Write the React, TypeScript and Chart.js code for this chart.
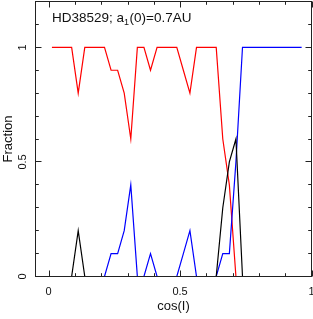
import React, { useEffect, useRef } from "react";
import { Chart, registerables } from "chart.js";

Chart.register(...registerables);

// cos(I) bin centres
const cosI = [
  0.0125, 0.0375, 0.0625, 0.0875, 0.1125, 0.1375, 0.1625, 0.1875, 0.2125, 0.2375,
  0.2625, 0.2875, 0.3125, 0.3375, 0.3625, 0.3875, 0.4125, 0.4375, 0.4625, 0.4875,
  0.5125, 0.5375, 0.5625, 0.5875, 0.6125, 0.6375, 0.6625, 0.6875, 0.7125, 0.7375,
  0.7625, 0.7875, 0.8125, 0.8375, 0.8625, 0.8875, 0.9125, 0.9375, 0.9625,
];
const redFrac = [
  1, 1, 1, 1, 0.8, 1, 1, 1, 1, 0.9,
  0.9, 0.8, 0.6, 1, 1, 0.9, 1, 1, 1, 1,
  0.9, 0.8, 1, 1, 1, 1, 0.6, 0.4, 0, 0,
  0, 0, 0, 0, 0, 0, 0, 0, 0,
];
const blueFrac = [
  0, 0, 0, 0, 0, 0, 0, 0, 0, 0.1,
  0.1, 0.2, 0.4, 0, 0, 0.1, 0, 0, 0, 0,
  0.1, 0.2, 0, 0, 0, 0, 0.1, 0.1, 0.5, 1,
  1, 1, 1, 1, 1, 1, 1, 1, 1,
];
const blackFrac = [
  0, 0, 0, 0, 0.2, 0, 0, 0, 0, 0,
  0, 0, 0, 0, 0, 0, 0, 0, 0, 0,
  0, 0, 0, 0, 0, 0, 0.3, 0.5, 0.6, 0,
  0, 0, 0, 0, 0, 0, 0, 0, 0,
];
const xTickValues = [0, 0.5, 1];
const yTickValues = [0, 0.5, 1];
const xMinorTicks = [0, 0.1, 0.2, 0.3, 0.4, 0.5, 0.6, 0.7, 0.8, 0.9, 1];
const yMinorTicks = [0, 0.1, 0.2, 0.3, 0.4, 0.5, 0.6, 0.7, 0.8, 0.9, 1, 1.1, 1.2];
const titleMain = "HD38529; a";
const titleSub = "1";
const titleRest = "(0)=0.7AU";
const xTitle = "cos(I)";
const yTitle = "Fraction";

const FONT = '"Liberation Sans", Arial, Helvetica, sans-serif';

const framePlugin = {
  id: "frame",
  afterDatasetsDraw(chart: any) {
    const { ctx, chartArea: a, scales } = chart;
    const xs = scales.x;
    const ys = scales.y;
    ctx.save();
    ctx.strokeStyle = "#222";
    ctx.lineWidth = 1;
    ctx.strokeRect(a.left, a.top, a.right - a.left, a.bottom - a.top);
    ctx.beginPath();
    xMinorTicks.forEach((v) => {
      const px = Math.round(xs.getPixelForValue(v)) + 0.5;
      const len = xTickValues.some((t) => Math.abs(t - v) < 1e-9) ? 6 : 3.3;
      ctx.moveTo(px, a.bottom);
      ctx.lineTo(px, a.bottom - len);
      ctx.moveTo(px, a.top);
      ctx.lineTo(px, a.top + len);
    });
    yMinorTicks.forEach((v) => {
      const py = Math.floor(ys.getPixelForValue(v)) + 0.5;
      const len = yTickValues.some((t) => Math.abs(t - v) < 1e-9) ? 6 : 3.3;
      ctx.moveTo(a.left, py);
      ctx.lineTo(a.left + len, py);
      ctx.moveTo(a.right, py);
      ctx.lineTo(a.right - len, py);
    });
    ctx.stroke();

    // title
    ctx.fillStyle = "#111";
    ctx.textBaseline = "alphabetic";
    ctx.textAlign = "left";
    let x = a.left + 16.5;
    const base = 21.5;
    ctx.font = `13.5px ${FONT}`;
    ctx.fillText(titleMain, x, base);
    x += ctx.measureText(titleMain).width;
    ctx.font = `9px ${FONT}`;
    ctx.fillText(titleSub, x, base + 3);
    x += ctx.measureText(titleSub).width + 0.5;
    ctx.font = `13.5px ${FONT}`;
    ctx.fillText(titleRest, x, base);
    ctx.restore();
  },
};

const zeroPad = (s: any) => {
  s.paddingLeft = 0;
  s.paddingRight = 0;
  s.paddingTop = 0;
  s.paddingBottom = 0;
};

export default function App() {
  const ref = useRef<HTMLCanvasElement | null>(null);

  useEffect(() => {
    document.body.style.margin = "0";
    const canvas = ref.current;
    if (!canvas) return;
    const mk = (vals: number[]) => cosI.map((x, i) => ({ x, y: vals[i] }));
    const chart = new Chart(canvas, {
      type: "line",
      data: {
        datasets: [
          { data: mk(blackFrac), borderColor: "#000000", borderWidth: 1.2, pointRadius: 0, tension: 0, clip: 0 },
          { data: mk(blueFrac), borderColor: "#0000ff", borderWidth: 1.2, pointRadius: 0, tension: 0, clip: 0 },
          { data: mk(redFrac), borderColor: "#ff0000", borderWidth: 1.2, pointRadius: 0, tension: 0, clip: 0 },
        ],
      },
      options: {
        responsive: false,
        animation: false,
        devicePixelRatio: 1,
        layout: { padding: { top: 1.5, right: 1.5, left: 0, bottom: 0 } },
        plugins: { legend: { display: false }, tooltip: { enabled: false } },
        scales: {
          x: {
            type: "linear",
            min: -0.05,
            max: 1,
            grid: { display: false, drawTicks: false },
            border: { display: false },
            afterBuildTicks: (s: any) => {
              s.ticks = xTickValues.map((v) => ({ value: v }));
            },
            afterFit: (s: any) => {
              s.height = 42.5;
              zeroPad(s);
            },
            ticks: {
              padding: 8.5,
              color: "#111",
              font: { family: FONT, size: 11 },
              maxRotation: 0,
              callback: (v: any) => String(v),
            },
            title: {
              display: true,
              text: xTitle,
              color: "#111",
              font: { family: FONT, size: 13, lineHeight: 1.2 },
              padding: { top: 0, bottom: 4.5 },
            },
          },
          y: {
            type: "linear",
            min: 0,
            max: 1.2,
            grid: { display: false, drawTicks: false },
            border: { display: false },
            afterBuildTicks: (s: any) => {
              s.ticks = yTickValues.map((v) => ({ value: v }));
            },
            afterFit: (s: any) => {
              s.width = 35.5;
              zeroPad(s);
            },
            ticks: {
              padding: 4.5,
              color: "#111",
              font: { family: FONT, size: 11 },
              minRotation: 90,
              maxRotation: 90,
              crossAlign: "center",
              callback: (v: any) => String(v),
            },
            title: {
              display: true,
              text: yTitle,
              color: "#111",
              font: { family: FONT, size: 13, lineHeight: 1.2 },
              padding: { top: 1, bottom: 0 },
            },
          },
        },
      },
      plugins: [framePlugin],
    } as any);
    return () => chart.destroy();
  }, []);

  return (
    <div style={{ width: 313, height: 319 }}>
      <canvas ref={ref} width={313} height={319} style={{ display: "block", width: 313, height: 319 }} />
    </div>
  );
}
